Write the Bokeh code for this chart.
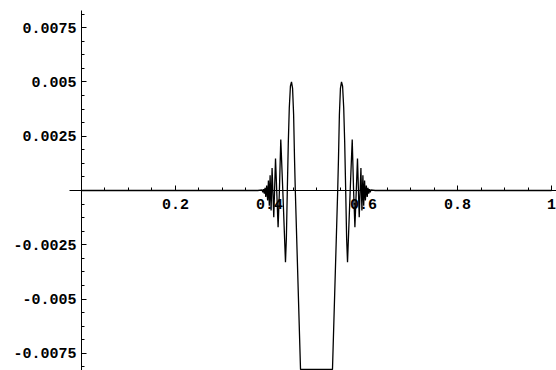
from bokeh.plotting import figure
from bokeh.models import Range1d, FixedTicker
from bokeh.embed import file_html
from bokeh.resources import INLINE

# ---- data ----
left_x = [0.0, 0.3751, 0.3843, 0.3857, 0.3874, 0.3889, 0.3906, 0.3921, 0.3940, 0.3960,
          0.3977, 0.3996, 0.4013, 0.4034, 0.4055, 0.4091, 0.4128, 0.4183, 0.4211, 0.4240,
          0.4283, 0.4340, 0.4359, 0.4379, 0.4400, 0.4421, 0.4445, 0.4468, 0.4491, 0.4513,
          0.4532, 0.4549, 0.4660]
left_y = [0.0, 0.0, 0.00003, -0.00008, 0.00006, -0.00015, 0.00012, -0.00030, 0.00023, -0.00046,
          0.00046, -0.00070, 0.00070, -0.00092, 0.00103, -0.00123, 0.00147, -0.00169, 0.0, 0.00235,
          0.0, -0.00330, -0.00220, 0.0, 0.00220, 0.00380, 0.00480, 0.00500, 0.00470, 0.00350,
          0.00150, 0.0, -0.00824]
right_x = [0.5340, 0.5451, 0.5468, 0.5487, 0.5509, 0.5532, 0.5555, 0.5579, 0.5600, 0.5621,
           0.5641, 0.5660, 0.5717, 0.5760, 0.5789, 0.5817, 0.5872, 0.5909, 0.5945, 0.5966,
           0.5987, 0.6004, 0.6023, 0.6040, 0.6060, 0.6079, 0.6094, 0.6111, 0.6126, 0.6143,
           0.6157, 0.6249, 1.0]
right_y = [-0.00824, 0.0, 0.00150, 0.00350, 0.00470, 0.00500, 0.00480, 0.00380, 0.00220, 0.0,
           -0.00220, -0.00330, 0.0, 0.00235, 0.0, -0.00169, 0.00147, -0.00123, 0.00103, -0.00092,
           0.00070, -0.00070, 0.00046, -0.00046, 0.00023, -0.00030, 0.00012, -0.00015, 0.00006, -0.00008,
           0.00003, 0.0, 0.0]

x_ticks = [0.2, 0.4, 0.6, 0.8, 1.0]
x_tick_labels = ["0.2", "0.4", "0.6", "0.8", "1"]
x_minor = [0.05, 0.1, 0.15, 0.25, 0.3, 0.35, 0.45, 0.5, 0.55, 0.65, 0.7, 0.75, 0.85, 0.9, 0.95]
y_ticks = [-0.0075, -0.005, -0.0025, 0.0025, 0.005, 0.0075]
y_tick_labels = ["-0.0075", "-0.005", "-0.0025", "0.0025", "0.005", "0.0075"]
y_minor = [-0.008125, -0.006875, -0.00625, -0.005625, -0.004375, -0.00375, -0.003125,
           -0.001875, -0.00125, -0.000625, 0.000625, 0.00125, 0.001875, 0.003125, 0.00375,
           0.004375, 0.005625, 0.00625, 0.006875, 0.008125]

xs = left_x + right_x
ys = left_y + right_y

p = figure(width=556, height=370, output_backend="svg", toolbar_location=None,
           x_range=Range1d(-0.1723, 1.0106), y_range=Range1d(-0.008287, 0.008748),
           min_border=0)
p.outline_line_color = None
p.xgrid.visible = False
p.ygrid.visible = False
p.background_fill_color = "white"
p.border_fill_color = "white"

p.line(xs, ys, line_color="black", line_width=1.3)

for ax in (p.xaxis[0], p.yaxis[0]):
    ax.fixed_location = 0
    ax.axis_line_color = "black"
    ax.axis_line_width = 1
    ax.major_tick_in = 5
    ax.major_tick_out = 0
    ax.minor_tick_in = 3
    ax.minor_tick_out = 0
    ax.major_tick_line_color = "black"
    ax.minor_tick_line_color = "black"
    ax.major_label_text_font = "Liberation Mono"
    ax.major_label_text_font_size = "15px"
    ax.major_label_text_font_style = "bold"
    ax.major_label_text_color = "black"

p.xaxis[0].ticker = FixedTicker(ticks=x_ticks, minor_ticks=x_minor)
p.xaxis[0].major_label_overrides = {t: s for t, s in zip(x_ticks, x_tick_labels)}
p.xaxis[0].bounds = (-0.0255, 1.0106)
p.xaxis[0].major_label_standoff = 8

p.yaxis[0].ticker = FixedTicker(ticks=y_ticks, minor_ticks=y_minor)
p.yaxis[0].major_label_overrides = {t: s for t, s in zip(y_ticks, y_tick_labels)}
p.yaxis[0].bounds = (-0.00829, 0.00829)
p.yaxis[0].major_label_standoff = 5

open("out.html", "w").write(file_html(p, INLINE))
